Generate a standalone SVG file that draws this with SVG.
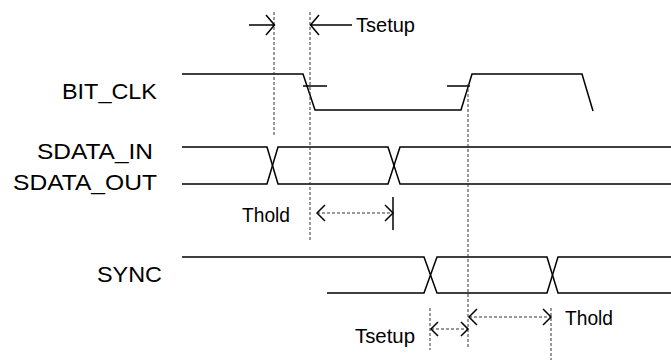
<svg xmlns="http://www.w3.org/2000/svg" width="671" height="360" viewBox="0 0 671 360">
<style>
.bg{fill:#fff}
.wave{fill:none;stroke:#000;stroke-width:1.5;stroke-linejoin:miter}
.lbl{font-family:"Liberation Sans",Arial,sans-serif;font-size:22px;fill:#000}
.sm{font-family:"Liberation Sans",Arial,sans-serif;font-size:19.5px;fill:#000}
.guide{fill:none;stroke:#333;stroke-width:1;stroke-dasharray:3 2}
.dim{fill:none;stroke:#333;stroke-width:1;stroke-dasharray:3 2}
.arr{fill:none;stroke:#000;stroke-width:1.5}
.tick{fill:none;stroke:#000;stroke-width:1.5}
</style>
<rect class="bg" x="0" y="0" width="671" height="360"/>

<g id="bit_clk">
<text class="lbl" x="62" y="99" textLength="95" lengthAdjust="spacingAndGlyphs">BIT_CLK</text>
<path class="wave" d="M182 74 H303 L315 110 H461 L472 74 H582 L593 111"/>
<path class="tick" d="M303 86 H327 M447 86 H470"/>
</g>

<g id="sdata_in">
<text class="lbl" x="37" y="159" textLength="116" lengthAdjust="spacingAndGlyphs">SDATA_IN</text>
<path class="wave" d="M182 147 H267 L278 184 H388 L400 147 H671"/>
</g>

<g id="sdata_out">
<text class="lbl" x="13" y="190" textLength="144" lengthAdjust="spacingAndGlyphs">SDATA_OUT</text>
<path class="wave" d="M182 184 H267 L278 147 H388 L400 184 H671"/>
</g>

<g id="sync">
<text class="lbl" x="97" y="282" textLength="65" lengthAdjust="spacingAndGlyphs">SYNC</text>
<path class="wave" d="M182 257 H424 L437 293 H547 L558 257 H671"/>
<path class="wave" d="M327 293 H424 L437 257 H547 L558 293 H671"/>
</g>

<g id="connectors">
<!-- vertical guides -->
<line class="guide" x1="274" y1="12" x2="274" y2="135"/>
<line class="guide" x1="310" y1="12" x2="310" y2="240"/>
<line class="guide" x1="468" y1="84" x2="468" y2="347"/>
<line class="guide" x1="430" y1="308" x2="430" y2="350"/>
<line class="guide" x1="551" y1="308" x2="551" y2="360"/>

<!-- top Tsetup arrows -->
<path class="arr" d="M249 25 H274 M266 15 L274.5 25 L266 35"/>
<path class="arr" d="M352 25 H311 M319 15 L310.5 25 L319 35"/>
<text class="sm" x="356" y="32" textLength="59" lengthAdjust="spacingAndGlyphs">Tsetup</text>

<!-- middle Thold -->
<line class="dim" x1="317" y1="213" x2="392" y2="213"/>
<path class="arr" d="M325 205 L317 213 L325 221 M385 205 L393 213 L385 221"/>
<line class="tick" x1="393" y1="197" x2="393" y2="230"/>
<text class="sm" x="242" y="222" textLength="48" lengthAdjust="spacingAndGlyphs">Thold</text>

<!-- bottom Tsetup -->
<line class="dim" x1="431" y1="329" x2="467" y2="329"/>
<path class="arr" d="M438 322 L431 329 L438 336 M461 322 L468 329 L461 336"/>
<text class="sm" x="355" y="343" textLength="60" lengthAdjust="spacingAndGlyphs">Tsetup</text>

<!-- bottom Thold -->
<line class="dim" x1="469" y1="317" x2="550" y2="317"/>
<path class="arr" d="M477 309 L469 317 L477 325 M543 309 L551 317 L543 325"/>
<text class="sm" x="565" y="325" textLength="48" lengthAdjust="spacingAndGlyphs">Thold</text>
</g>
</svg>
